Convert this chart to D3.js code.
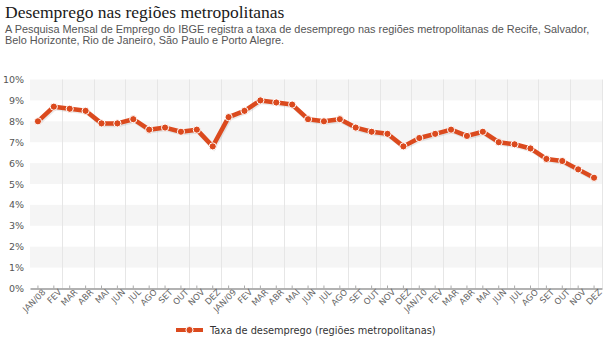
<!DOCTYPE html>
<html>
<head>
<meta charset="utf-8">
<script src="https://cdn.jsdelivr.net/npm/d3@7/dist/d3.min.js"></script>
<style>
  html, body { margin: 0; padding: 0; background: #fff; }
  svg { display: block; }
</style>
</head>
<body>
<svg id="chart" width="616" height="345"></svg>
<script>
// Monthly unemployment rate, metropolitan regions (IBGE PME), Jan/2008 – Dez/2010
const monthLabels = [
  "JAN/08","FEV","MAR","ABR","MAI","JUN","JUL","AGO","SET","OUT","NOV","DEZ",
  "JAN/09","FEV","MAR","ABR","MAI","JUN","JUL","AGO","SET","OUT","NOV","DEZ",
  "JAN/10","FEV","MAR","ABR","MAI","JUN","JUL","AGO","SET","OUT","NOV","DEZ"
];
const rates2008 = [8.0, 8.7, 8.6, 8.5, 7.9, 7.9, 8.1, 7.6, 7.7, 7.5, 7.6, 6.8];
const rates2009 = [8.2, 8.5, 9.0, 8.9, 8.8, 8.1, 8.0, 8.1, 7.7, 7.5, 7.4, 6.8];
const rates2010 = [7.2, 7.4, 7.6, 7.3, 7.5, 7.0, 6.9, 6.7, 6.2, 6.1, 5.7, 5.3];
const yTicks = [0, 1, 2, 3, 4, 5, 6, 7, 8, 9, 10];

const seriesName = "Taxa de desemprego (regiões metropolitanas)";
const title = "Desemprego nas regiões metropolitanas";
const subtitleLines = [
  "A Pesquisa Mensal de Emprego do IBGE registra a taxa de desemprego nas regiões metropolitanas de Recife, Salvador,",
  "Belo Horizonte, Rio de Janeiro, São Paulo e Porto Alegre."
];

const rates = rates2008.concat(rates2009, rates2010);
const data = monthLabels.map((m, i) => ({ key: i, label: m, value: rates[i] }));

const svg = d3.select("#chart");
const plot = { left: 30, right: 602, top: 79.5, bottom: 288.5 };
const lineColor = "#db4a1e";

// Header
svg.append("text")
  .attr("x", 5).attr("y", 18)
  .attr("font-family", "'Liberation Serif', Georgia, serif")
  .attr("font-size", 17.5)
  .attr("fill", "#1a1a1a")
  .text(title);

svg.selectAll("text.sub")
  .data(subtitleLines)
  .enter().append("text")
  .attr("class", "sub")
  .attr("x", 5)
  .attr("y", (d, i) => 32.5 + i * 11.5)
  .attr("font-family", "'Liberation Sans', Arial, sans-serif")
  .attr("font-size", 10.9)
  .attr("fill", "#555")
  .text(d => d);

// Scales
const x = d3.scaleBand()
  .domain(data.map(d => d.key))
  .range([plot.left, plot.right]);

const y = d3.scaleLinear()
  .domain([0, 10])
  .range([plot.bottom, plot.top]);

// Alternating horizontal bands
const bands = yTicks.slice(0, -1).filter(v => v % 2 === 1);
svg.append("g").selectAll("rect")
  .data(bands)
  .enter().append("rect")
  .attr("x", plot.left)
  .attr("width", plot.right - plot.left)
  .attr("y", d => y(d + 1))
  .attr("height", d => y(d) - y(d + 1))
  .attr("fill", "#f5f5f5");

// Vertical grid lines every two months
const vLines = d3.range(2, data.length + 1, 2);
svg.append("g").selectAll("line")
  .data(vLines)
  .enter().append("line")
  .attr("x1", d => Math.round(plot.left + d * x.step()) + 0.5)
  .attr("x2", d => Math.round(plot.left + d * x.step()) + 0.5)
  .attr("y1", plot.top)
  .attr("y2", plot.bottom)
  .attr("stroke", "#e6e6e6")
  .attr("stroke-width", 1);

// Y axis labels
svg.append("g").selectAll("text")
  .data(yTicks)
  .enter().append("text")
  .attr("x", 24)
  .attr("y", d => y(d) + 3.5)
  .attr("text-anchor", "end")
  .attr("font-family", "'DejaVu Sans', Verdana, sans-serif")
  .attr("font-size", 9.5)
  .attr("fill", "#555")
  .text(d => d + "%");

// X axis
const xAxis = d3.axisBottom(x)
  .tickFormat(k => data[k].label)
  .tickSize(-3)
  .tickSizeOuter(0)
  .tickPadding(6);

const gx = svg.append("g")
  .attr("transform", `translate(0,${plot.bottom})`)
  .call(xAxis);

gx.select(".domain").attr("stroke", "#999").attr("stroke-width", 1.3);
gx.selectAll(".tick line").attr("stroke", "#aaa");
gx.selectAll(".tick text")
  .attr("font-family", "'DejaVu Sans', Verdana, sans-serif")
  .attr("font-size", 8.5)
  .attr("fill", "#666")
  .attr("text-anchor", "end")
  .attr("dy", 0)
  .attr("transform", "translate(4,0) rotate(-45)");

// Series line
const line = d3.line()
  .x(d => x(d.key) + x.bandwidth() / 2)
  .y(d => y(d.value));

svg.append("path")
  .datum(data)
  .attr("d", line)
  .attr("fill", "none")
  .attr("stroke", "#000")
  .attr("stroke-opacity", 0.08)
  .attr("stroke-width", 4.5)
  .attr("transform", "translate(1,1.5)");

svg.append("path")
  .datum(data)
  .attr("d", line)
  .attr("fill", "none")
  .attr("stroke", lineColor)
  .attr("stroke-width", 4.5)
  .attr("stroke-linejoin", "round");

svg.append("g").selectAll("circle")
  .data(data)
  .enter().append("circle")
  .attr("cx", d => x(d.key) + x.bandwidth() / 2)
  .attr("cy", d => y(d.value))
  .attr("r", 3.6)
  .attr("fill", lineColor)
  .attr("stroke", "#fff")
  .attr("stroke-width", 1);

// Legend
const legend = svg.append("g").attr("transform", "translate(176,330)");
legend.append("line")
  .attr("x1", 0).attr("x2", 27)
  .attr("y1", 0).attr("y2", 0)
  .attr("stroke", lineColor)
  .attr("stroke-width", 4);
legend.append("circle")
  .attr("cx", 13.5).attr("cy", 0).attr("r", 3.6)
  .attr("fill", lineColor)
  .attr("stroke", "#fff")
  .attr("stroke-width", 1);
legend.append("text")
  .attr("x", 34).attr("y", 3.5)
  .attr("font-family", "'DejaVu Sans', Verdana, sans-serif")
  .attr("font-size", 9.8)
  .attr("fill", "#333")
  .text(seriesName);
</script>
</body>
</html>
